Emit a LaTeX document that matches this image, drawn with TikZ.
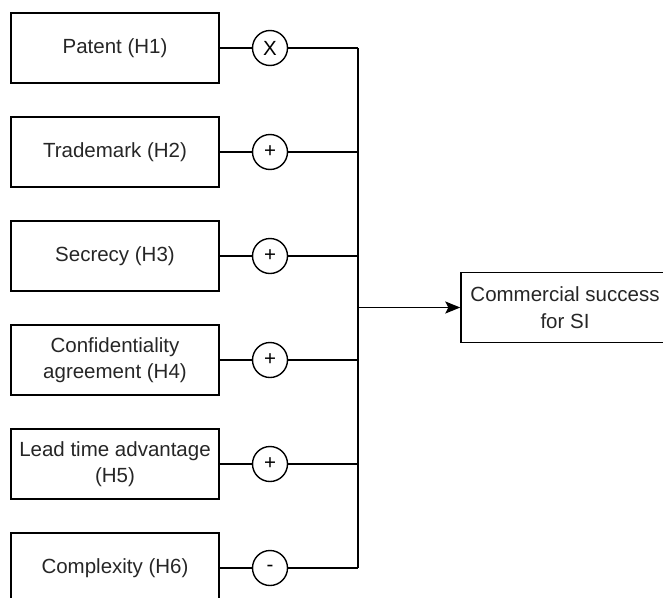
\documentclass[tikz,border=0pt]{standalone}
\usepackage{fontspec}
\setmainfont{Liberation Sans}
\usetikzlibrary{arrows.meta}
\begin{document}
\begin{tikzpicture}[x=1pt,y=-1pt,
  box/.style={draw,line width=1.4pt,minimum width=208pt,minimum height=70pt,align=center,inner sep=0pt,
    font=\fontsize{20.5}{26.5}\selectfont,text=black!85},
  sign/.style={draw,circle,line width=1.4pt,minimum size=35pt,inner sep=0pt,font=\fontsize{20.5}{24}\selectfont},
  wire/.style={line width=1.4pt}]
\useasboundingbox (0,0) rectangle (663,597);
\clip (0,0) rectangle (663,597);
\foreach \i/\y/\t/\s in {1/48/{Patent (H1)}/X, 2/152/{Trademark (H2)}/+, 3/256/{Secrecy (H3)}/+,
  4/360/{Confidentiality\\agreement (H4)}/+, 5/464/{Lead time advantage\\(H5)}/+, 6/568/{Complexity (H6)}/-}{
  \node[box] (b\i) at (115,\y) {\t};
  \node[sign] (s\i) at (270,\y) {\s};
  \coordinate (j\i) at (358,\y);
  \draw[wire] (b\i) -- (s\i);
  \draw[wire] (s\i) -- (j\i);
}
\draw[wire] (j1) -- (j6);
\node[box] (out) at (565,307.5) {Commercial success\\for SI};
\coordinate (jm) at (358,307.5);
\draw[wire,-{Stealth[length=15pt,width=12pt,inset=3pt]}] (jm) -- (out.west);
\end{tikzpicture}
\end{document}
